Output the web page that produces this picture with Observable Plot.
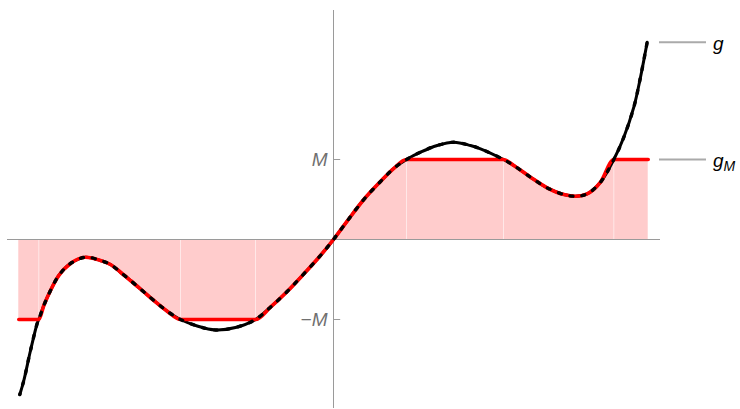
<!DOCTYPE html>
<html>
<head>
<meta charset="utf-8">
<script src="https://cdn.jsdelivr.net/npm/d3@7"></script>
<script src="https://cdn.jsdelivr.net/npm/@observablehq/plot@0.6"></script>
<style>
  html, body { margin: 0; padding: 0; background: #fff; }
  svg { display: block; }
</style>
</head>
<body>
<div id="chart"></div>
<script>
// g(x) (M = 1)
const gX = [-3.921,-3.871,-3.7875,-3.704,-3.684,-3.621,-3.5375,-3.434,-3.2875,-3.1,-2.9125,-2.7875,-2.6625,-2.5375,-2.391,-2.246,-2.079,-1.9125,-1.704,-1.475,-1.225,-0.975,-0.7875,-0.579,-0.371,-0.1625,0,0.171,0.379,0.5875,0.754,0.9125,1.0875,1.296,1.504,1.7125,1.8375,2.125,2.254,2.4625,2.671,2.879,3.025,3.171,3.3375,3.504,3.629,3.754,3.8375,3.921];
const gY = [-1.9375,-1.7625,-1.3875,-1.05,-1.0,-0.825,-0.6375,-0.45,-0.3,-0.221,-0.2625,-0.3125,-0.409,-0.5125,-0.6375,-0.7625,-0.896,-1.0,-1.081,-1.131,-1.1,-1.0,-0.846,-0.65,-0.43,-0.2,0,0.23,0.5,0.725,0.89,1.0,1.091,1.175,1.216,1.175,1.134,1.0,0.925,0.779,0.646,0.5625,0.541,0.571,0.716,1.0,1.279,1.654,2.029,2.466];
// g_M(x): g clipped to [-M, M]
const gmX = [-3.934,-3.684,-3.621,-3.5375,-3.434,-3.2875,-3.1,-2.9125,-2.7875,-2.6625,-2.5375,-2.391,-2.246,-2.079,-1.9125,-1.45,-0.975,-0.7875,-0.579,-0.371,-0.1625,0,0.171,0.379,0.5875,0.754,0.9125,1.5,2.125,2.254,2.4625,2.671,2.879,3.025,3.171,3.3375,3.504,3.72,3.934];
const gmY = [-1,-1,-0.825,-0.6375,-0.45,-0.3,-0.221,-0.2625,-0.3125,-0.409,-0.5125,-0.6375,-0.7625,-0.896,-1,-1,-1,-0.846,-0.65,-0.43,-0.2,0,0.23,0.5,0.725,0.89,1,1,1,0.925,0.779,0.646,0.5625,0.541,0.571,0.716,1,1,1];
// seams in the fill where g_M switches between g and ±M
const seams = [-3.684,-1.9125,-0.975,0.9125,2.125,3.504];
const seamY = [-1,-1,-1,1,1,1];
const tickVals = [1, -1];
const tickLabels = ["M", "\u2212M"];

const g = gX.map((x, i) => ({x, y: gY[i]}));
const gm = gmX.map((x, i) => ({x, y: gmY[i]}));
const seamData = seams.map((x, i) => ({x, y: seamY[i]}));
const ticks = tickVals.map((v, i) => ({v, label: tickLabels[i]}));

const axisColor = "#9a9a9a";
const fontFam = "'Liberation Sans', Arial, sans-serif";

const plot = Plot.plot({
  width: 740,
  height: 409,
  marginLeft: 7,
  marginRight: 80,
  marginTop: 10,
  marginBottom: 1,
  x: {domain: [-4.075, 4.0875], axis: null},
  y: {domain: [-2.1125, 2.8625], axis: null},
  style: {fontFamily: fontFam, background: "#fff"},
  marks: [
    Plot.areaY(gm, {x: "x", y1: 0, y2: "y", curve: "monotone-x", fill: "#ffcccc"}),
    Plot.ruleX(seamData, {x: "x", y1: 0, y2: "y", stroke: "#fff", strokeWidth: 1, strokeOpacity: 0.55}),
    Plot.ruleY([0], {stroke: axisColor, strokeWidth: 1}),
    Plot.ruleX([0], {stroke: axisColor, strokeWidth: 1}),
    Plot.ruleY(ticks, {y: "v", x1: 0, x2: 0.09, stroke: axisColor, strokeWidth: 1}),
    Plot.text(ticks, {y: "v", x: 0, text: "label", dx: -6, textAnchor: "end", fill: "#707070", fontSize: 19, fontStyle: "italic"}),
    Plot.line(g, {x: "x", y: "y", curve: "catmull-rom", stroke: "#000", strokeWidth: 3}),
    Plot.line(gm, {x: "x", y: "y", curve: "monotone-x", stroke: "#ff0000", strokeWidth: 3.6}),
    Plot.line(g, {x: "x", y: "y", curve: "catmull-rom", stroke: "#000", strokeWidth: 3.4, strokeDasharray: "3,9", strokeDashoffset: 2}),
    // legend leaders
    Plot.ruleY([gY[gY.length - 1], gmY[gmY.length - 1]], {x1: 4.075, x2: 4.6625, stroke: "#aaaaaa", strokeWidth: 2})
  ]
});

document.getElementById("chart").appendChild(plot);

// legend labels placed through the plot's scales
const sx = plot.scale("x"), sy = plot.scale("y");
const svg = d3.select(plot);
const lx = sx.apply(4.6625) + 7;
svg.append("text")
  .attr("x", lx).attr("y", sy.apply(gY[gY.length - 1]))
  .attr("dy", "0.42em").attr("text-anchor", "start")
  .attr("font-family", fontFam).attr("font-size", 19).attr("font-style", "italic")
  .attr("fill", "#000").text("g");
const t2 = svg.append("text")
  .attr("x", lx).attr("y", sy.apply(gmY[gmY.length - 1]))
  .attr("dy", "0.42em").attr("text-anchor", "start")
  .attr("font-family", fontFam).attr("font-size", 19).attr("font-style", "italic")
  .attr("fill", "#000");
t2.append("tspan").text("g");
t2.append("tspan").attr("font-size", 14).attr("dy", "0.3em").text("M");
</script>
</body>
</html>
